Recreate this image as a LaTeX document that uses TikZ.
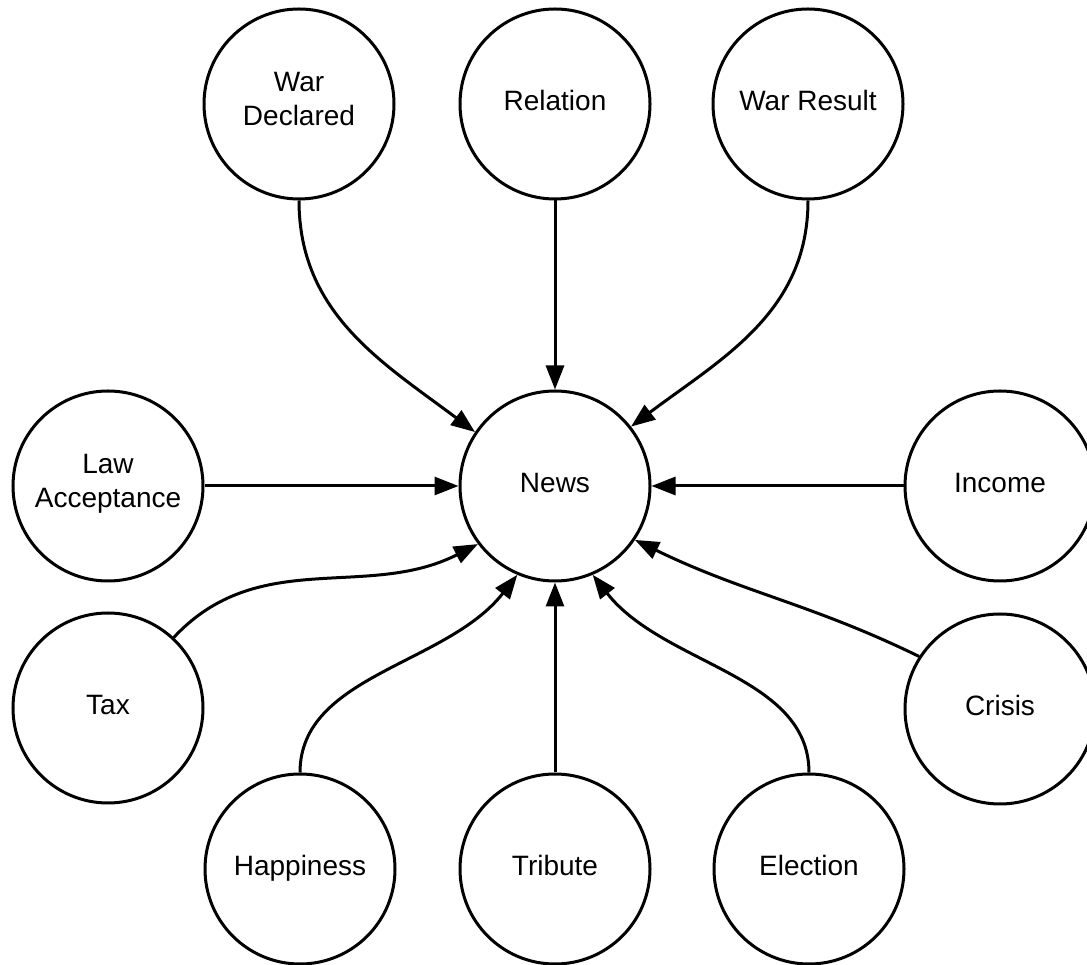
\documentclass[tikz,border=0pt]{standalone}
\usepackage{fontspec}
\setmainfont{Liberation Sans}
\usetikzlibrary{arrows.meta}
\begin{document}
\begin{tikzpicture}[x=1pt, y=1pt,
  bubble/.style={circle, draw, line width=3pt, minimum size=190pt, inner sep=0pt,
    align=center, font=\fontsize{28}{34.5}\selectfont,
    execute at begin node=\strut, execute at end node=\strut},
  link/.style={line width=3pt, -{Triangle[length=24pt, width=18pt]}}]
  \useasboundingbox (0,0) rectangle (1087,964);

  % hub
  \node[bubble] (news) at (555,478) {News};

  % top row
  \node[bubble] (wardec)   at (299,860) {War\\Declared};
  \node[bubble] (relation) at (555,860) {Relation};
  \node[bubble] (warres)   at (808,860) {War Result};

  % sides
  \node[bubble] (law)    at (108,478)  {Law\\Acceptance};
  \node[bubble] (income) at (1000,478) {Income};
  \node[bubble] (tax)    at (108,256)  {Tax};
  \node[bubble] (crisis) at (1000,255) {Crisis};

  % bottom row
  \node[bubble] (happy)    at (300,95) {Happiness};
  \node[bubble] (tribute)  at (555,95) {Tribute};
  \node[bubble] (election) at (809,95) {Election};

  % connectors into the hub
  \draw[link] (wardec.south) to[out=-90, in=143] (news.146);
  \draw[link] (relation.south) -- (news.north);
  \draw[link] (warres.south) to[out=-90, in=37] (news.38);
  \draw[link] (law.east) -- (news.west);
  \draw[link] (income.west) -- (news.east);
  \draw[link] (tax.47) to[out=47, in=207] (news.217);
  \draw[link] (happy.north) to[out=90, in=232, out looseness=0.85] (news.247);
  \draw[link] (tribute.north) -- (news.south);
  \draw[link] (election.north) to[out=90, in=-52, out looseness=0.85] (news.-67);
  \draw[link] (crisis.147) to[out=154, in=-26] (news.-34);
\end{tikzpicture}
\end{document}
